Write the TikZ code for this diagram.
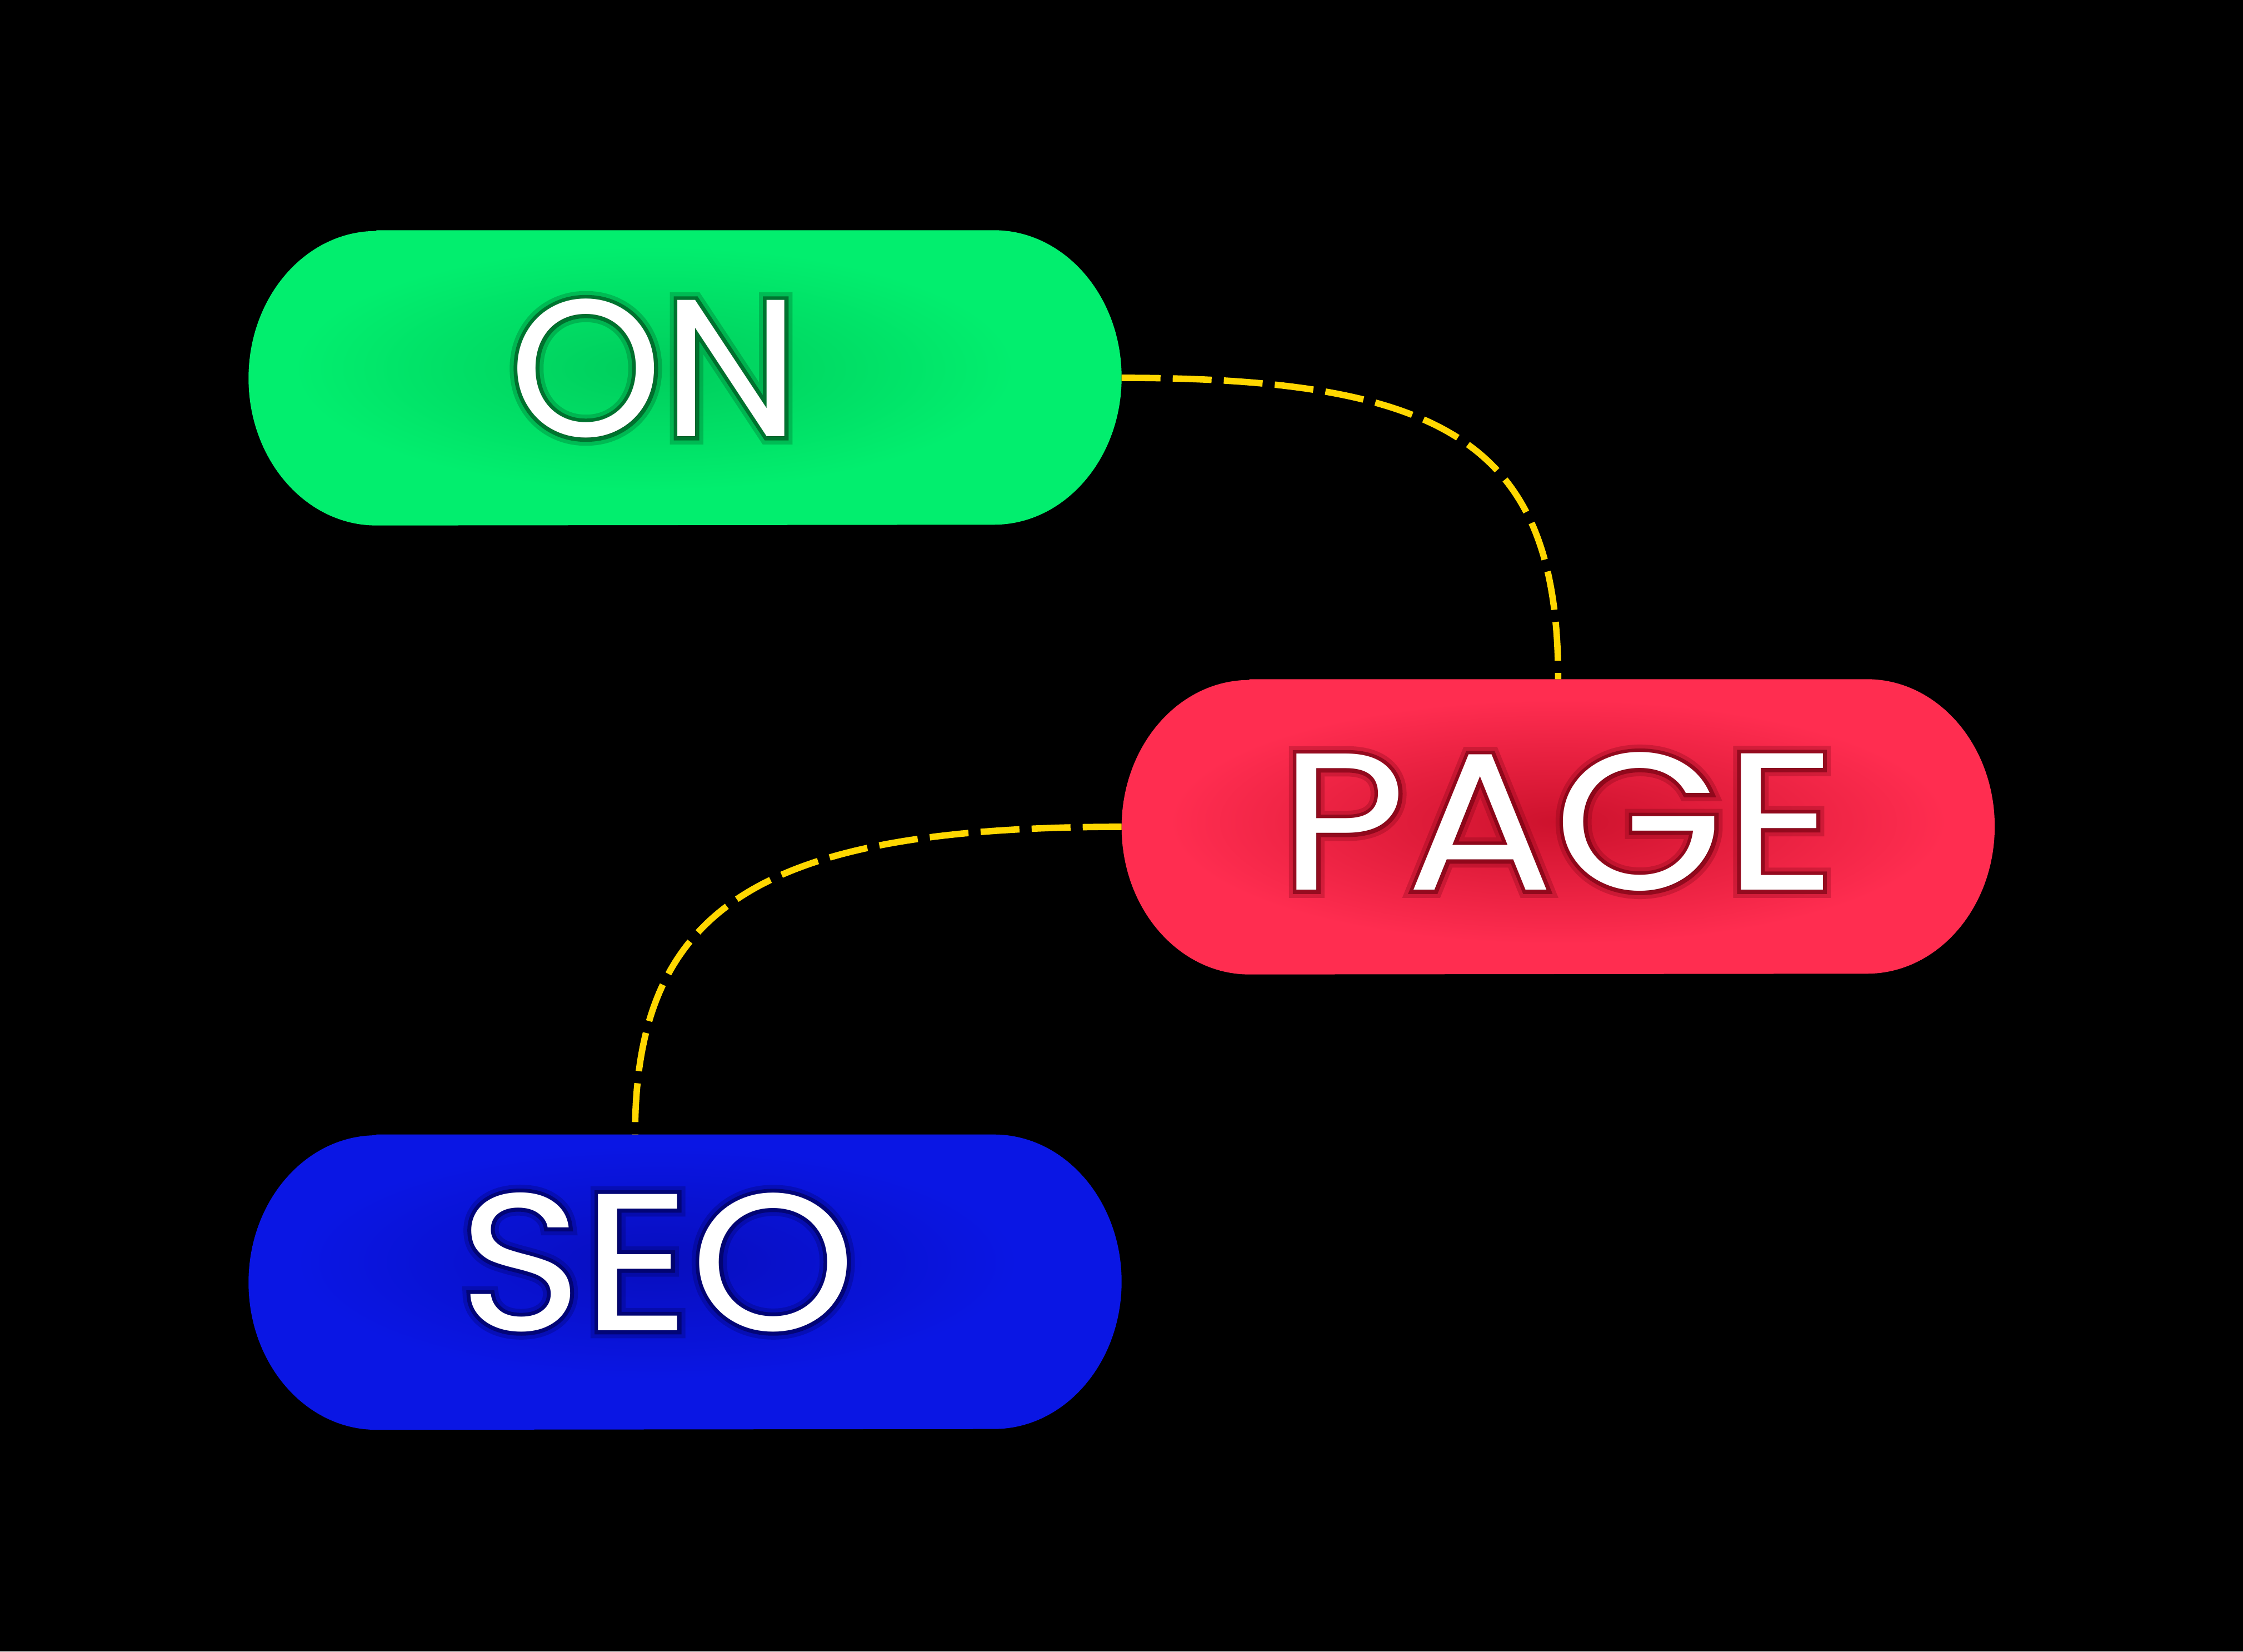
\documentclass[tikz,border=0pt]{standalone}
\usepackage{fontspec}
\setmainfont{Poppins}
\newfontfamily\halowide[FakeBold=8]{Poppins}
\newfontfamily\halonarrow[FakeBold=4]{Poppins}
\usetikzlibrary{positioning, calc}

\definecolor{ongreen}{RGB}{2,238,110}
\definecolor{ondark}{RGB}{0,70,25}
\definecolor{onmid}{RGB}{0,205,92}
\definecolor{pagered}{RGB}{255,45,80}
\definecolor{pagedark}{RGB}{110,0,15}
\definecolor{pagemid}{RGB}{205,18,45}
\definecolor{seoblue}{RGB}{10,22,228}
\definecolor{seodark}{RGB}{0,0,80}
\definecolor{seomid}{RGB}{8,14,190}
\definecolor{linkyellow}{RGB}{255,215,0}

\begin{document}
\begin{tikzpicture}[
    pill/.style={rectangle, minimum width=15.7cm, minimum height=5.3cm, inner sep=0pt},
    word/.style={text=white, font=\fontsize{100}{110}\selectfont},
    link/.style={draw=linkyellow, line width=3.3pt, dash pattern=on 0.7cm off 0.22cm}
]
    % Canvas
    \fill[black] (0,0) rectangle (40.37,29.72);
    \useasboundingbox (0,0) rectangle (40.37,29.72);

    % Pills
    \node[pill] (on) at (12.33,22.92) {};
    \node[pill, anchor=west] (page) at ($(on.east)+(0,-8.08)$) {};
    \node[pill, below=10.96cm of on] (seo) {};
    \foreach \n/\c in {on/ongreen, page/pagered, seo/seoblue}
        \fill[\c] ($(\n.north west)+(2.3,0)$) -- ($(\n.north east)+(-2.3,0)$)
            arc[start angle=90, end angle=-90, x radius=2.3cm, y radius=2.65cm]
            -- ($(\n.south west)+(2.3,0)$)
            arc[start angle=270, end angle=90, x radius=2.3cm, y radius=2.65cm] -- cycle;

    % Text spots
    \coordinate (on-txt) at ($(on)+(-0.55,0.17)$);
    \coordinate (page-txt) at ($(page)+(0,0.09)$);
    \coordinate (seo-txt) at ($(seo)+(-0.5,0.36)$);

    % Darker middle of each pill
    \shade[inner color=onmid, outer color=ongreen] (on-txt) ellipse [x radius=6.5cm, y radius=2.2cm];
    \shade[inner color=pagemid, outer color=pagered] (page-txt) ellipse [x radius=7cm, y radius=2.2cm];
    \shade[inner color=seomid, outer color=seoblue] (seo-txt) ellipse [x radius=6.5cm, y radius=2.1cm];

    % Glow round the words
    \foreach \p/\c/\w/\s in {on-txt/ondark/ON/1, page-txt/pagedark/PAGE/1.12, seo-txt/seodark/SEO/1.08} {
        \node[word, text=\c, opacity=0.25, font=\halowide\fontsize{100}{110}\selectfont\addfontfeatures{FakeStretch=\s}] at (\p) {\w};
        \node[word, text=\c, opacity=0.6, font=\halonarrow\fontsize{100}{110}\selectfont\addfontfeatures{FakeStretch=\s}] at (\p) {\w};
    }

    % Words
    \node[word] (on-label) at (on-txt) {ON};
    \node[word, font=\fontsize{100}{110}\selectfont\addfontfeatures{FakeStretch=1.12}] (page-label) at (page-txt) {PAGE};
    \node[word, font=\fontsize{100}{110}\selectfont\addfontfeatures{FakeStretch=1.08}] (seo-label) at (seo-txt) {SEO};

    % Links
    \coordinate (seo-in) at ($(seo.north)+(-0.9,0)$);
    \draw[link] (on.east) .. controls +(5.9,0) and +(0,4.2) .. (page.north);
    \draw[link] (page.west) .. controls +(-6.5,0) and +(0,4.1) .. (seo-in);

\end{tikzpicture}
\end{document}
